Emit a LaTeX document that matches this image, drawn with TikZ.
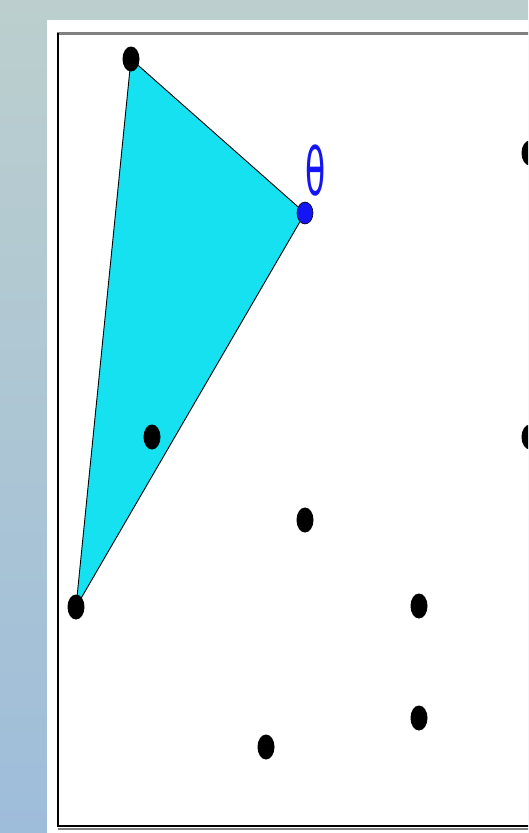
\documentclass[tikz,border=0pt]{standalone}
\usepackage{fontspec}
\newfontfamily\greekfont{DejaVu Sans}
\usepackage{tikz}
\usetikzlibrary{shapes.geometric, positioning, calc}
\usepackage{xcolor}
\definecolor{slidetop}{RGB}{188,207,206}
\definecolor{slidebottom}{RGB}{158,189,218}
\definecolor{hullcyan}{RGB}{22,225,240}
\definecolor{anglemark}{RGB}{20,20,245}
\definecolor{framegray}{RGB}{128,128,128}
\tikzset{
  dotmark/.style={ellipse, fill=black, inner sep=0pt, minimum width=17pt, minimum height=25pt},
  bluedot/.style={dotmark, fill=anglemark, draw=black, line width=0.6pt, minimum width=16pt, minimum height=22pt},
  hullface/.style={fill=hullcyan, draw=black, line width=0.9pt, line join=round},
  thetalabel/.style={text=anglemark, font=\greekfont\fontsize{33}{33}\selectfont, yscale=2, inner sep=0pt}
}

\begin{document}
\begin{tikzpicture}[x=1pt, y=-1pt]
  \useasboundingbox (0,0) rectangle (528,833);
  \clip (0,0) rectangle (528,833);
  % slide background and white panel
  \shade[top color=slidetop, bottom color=slidebottom] (0,0) rectangle (528,833);
  \fill[white] (47,20) rectangle (540,840);
  \draw[framegray, line width=3pt] (57,33) -- (540,33);
  \draw[black, line width=1.2pt] (58,33) -- (58,827);
  \draw[framegray, line width=1.5pt] (58,829) -- (540,829);
  \draw[black, line width=2pt] (57,826) -- (540,826);

  % triangle corners
  \coordinate (ctop)   at (131,59);
  \coordinate (ctheta) at (305,213);
  \coordinate (cleft)  at (76,607);
  \filldraw[hullface] (ctop) -- (ctheta) -- (cleft) -- cycle;

  % points
  \node[dotmark] (ptop)   at (ctop)   {};
  \node[bluedot] (ptheta) at (ctheta) {};
  \node[dotmark] (pleft)  at (cleft)  {};
  \node[dotmark] (pin)    at (152,437) {};
  \node[dotmark] (pmid)   at (305,520) {};
  \node[dotmark] (pright) at (419,606) {};
  \node[dotmark] (plow)   at (419,718) {};
  \node[dotmark] (pbot)   at (266,747) {};
  \node[dotmark] (pedgea) at (530,153) {};
  \node[dotmark] (pedgeb) at (530,437) {};

  \node[thetalabel] (theta) at (316,171) {θ};
\end{tikzpicture}
\end{document}
